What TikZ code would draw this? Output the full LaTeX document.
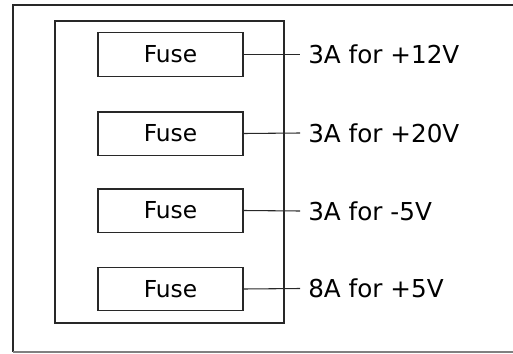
\documentclass[tikz,border=0pt]{standalone}
\usepackage{fontspec}
\setmainfont{DejaVu Sans}
\usepackage{xcolor}
\usetikzlibrary{positioning,calc}
\definecolor{inkgray}{RGB}{40,40,40}
\tikzset{
    fuse/.style={rectangle, draw=inkgray, fill=white, line width=1pt, minimum width=108.75pt, minimum height=32.5pt, font=\fontsize{17.5}{20}\selectfont},
    panel/.style={rectangle, draw=inkgray, line width=1pt, minimum width=171.75pt, minimum height=226.5pt},
    rating/.style={anchor=west, inner sep=0pt, font=\fontsize{18.5}{21}\selectfont},
    wire/.style={line width=0.8pt, color=inkgray},
}
\begin{document}
\begin{tikzpicture}[x=0.75pt, y=-0.75pt]
    \useasboundingbox (0,0) rectangle (513,353);
    % Outer frame (open on the right)
    \draw[line width=1pt, color=inkgray] (513,5) -- (13,5) -- (13,352);
    \draw[line width=1pt, color=gray] (13,352) -- (513,352);

    % Fuse panel
    \node[panel] (box) at (169.5,172) {};

    % Fuses
    \node[fuse] (fuse1) at (170.5,54.5) {Fuse};
    \node[fuse] (fuse2) at (170.5,133.5) {Fuse};
    \node[fuse] (fuse3) at (170.5,210.5) {Fuse};
    \node[fuse] (fuse4) at (170.5,289) {Fuse};

    % Ratings
    \coordinate (end1) at (300,54.5);
    \coordinate (end2) at (300,133);
    \coordinate (end3) at (300,211);
    \coordinate (end4) at (300,288.5);
    \node[rating, right=6pt of end1] (rate1) {3A for +12V};
    \node[rating, right=6pt of end2] (rate2) {3A for +20V};
    \node[rating, right=6pt of end3] (rate3) {3A for -5V};
    \node[rating, right=6pt of end4] (rate4) {8A for +5V};

    % Leads
    \draw[wire] (fuse1.east) -- (end1);
    \draw[wire] (fuse2.east) -- (end2);
    \draw[wire] (fuse3.east) -- (end3);
    \draw[wire] (fuse4.east) -- (end4);
\end{tikzpicture}
\end{document}
